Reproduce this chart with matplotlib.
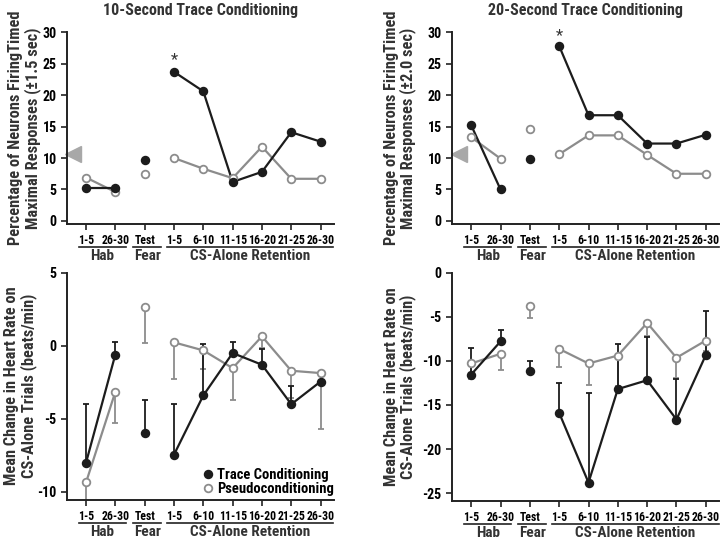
import matplotlib
matplotlib.use("Agg")
import matplotlib.pyplot as plt
from matplotlib import font_manager
from matplotlib.lines import Line2D
from matplotlib.transforms import blended_transform_factory, offset_copy

names = sorted({f.name for f in font_manager.fontManager.ttflist})
fam = 'Liberation Sans Narrow' if 'Liberation Sans Narrow' in names else 'Roboto Condensed' if 'Roboto Condensed' in names else 'Liberation Sans'
plt.rcParams['font.family'] = [fam, 'DejaVu Sans']
plt.rcParams['axes.unicode_minus'] = False

categories = ['1-5', '26-30', 'Test', '1-5', '6-10', '11-15', '16-20', '21-25', '26-30']
groups = ['Hab', 'Fear', 'CS-Alone Retention']
group_spans = [(-0.24, 1.37), (1.61, 2.56), (2.76, 8.44)]
segments = [(0, 2), (2, 3), (3, 9)]

top10_trace = [5.2, 5.2, 9.7, 23.7, 20.6, 6.2, 7.8, 14.1, 12.6]
top10_pseudo = [6.9, 4.6, 7.4, 10.0, 8.3, 6.8, 11.8, 6.7, 6.7]
top20_trace = [15.2, 5.0, 9.8, 27.8, 16.8, 16.8, 12.3, 12.3, 13.7]
top20_pseudo = [13.3, 9.9, 14.6, 10.6, 13.6, 13.6, 10.5, 7.5, 7.5]
chance10 = 10.6
chance20 = 10.6
star10 = 25.7
star20 = 29.4

hr10_trace = [-8.0, -0.6, -6.0, -7.45, -3.4, -0.5, -1.3, -4.0, -2.45]
hr10_trace_err = [4.05, 0.85, 2.3, 3.45, 3.5, 0.75, 1.1, 1.25, 0.0]
hr10_pseudo = [-9.35, -3.15, 2.62, 0.23, -0.32, -1.53, 0.64, -1.71, -1.87]
hr10_pseudo_err = [1.5, 2.15, 2.4, 2.5, 1.26, 2.2, 0.8, 1.83, 3.8]

hr20_trace = [-11.55, -7.8, -11.2, -15.9, -23.8, -13.2, -12.2, -16.65, -9.35]
hr20_trace_err = [3.05, 1.3, 1.2, 3.4, 10.15, 5.1, 4.95, 4.6, 4.95]
hr20_pseudo = [-10.3, -9.2, -3.8, -8.65, -10.3, -9.4, -5.7, -9.65, -7.7]
hr20_pseudo_err = [1.75, 1.8, 1.3, 2.05, 2.4, 3.5, 1.5, 2.25, 1.2]

BLACK = '#1c1c1c'
GRAY = '#8c8c8c'

fig = plt.figure(figsize=(7.2, 5.4), dpi=100)
ax_tl = fig.add_axes([0.093, 0.585, 0.371, 0.356])
ax_tr = fig.add_axes([0.628, 0.585, 0.371, 0.356])
ax_bl = fig.add_axes([0.093, 0.074, 0.371, 0.422])
ax_br = fig.add_axes([0.628, 0.072, 0.371, 0.424])

x = list(range(len(categories)))


def draw_series(ax, vals, color, filled, err=None, up=True):
    for a, b in segments:
        ax.plot(x[a:b], vals[a:b], '-', color=color, lw=1.6, zorder=3)
    if err is not None:
        lo = [0] * len(err) if up else err
        hi = err if up else [0] * len(err)
        ax.errorbar(x, vals, yerr=[lo, hi], fmt='none', ecolor=color,
                    elinewidth=1.3, capsize=2.2, capthick=1.3, zorder=2)
    ax.plot(x, vals, 'o', ms=5.5, mec=color, mfc=color if filled else 'white',
            mew=1.3, ls='none', zorder=4, clip_on=False)


def style(ax, ylim, yticks, ylabel, label_x):
    ax.set_xlim(-0.65, 8.46)
    ax.set_ylim(*ylim)
    ax.set_yticks(yticks)
    ax.set_yticklabels([str(t) for t in yticks], fontsize=10, fontweight='bold')
    ax.set_xticks(x)
    ax.set_xticklabels(categories, fontsize=8.5, fontweight='bold')
    for s in ['top', 'right']:
        ax.spines[s].set_visible(False)
    for s in ['left', 'bottom']:
        ax.spines[s].set_linewidth(1.4)
        ax.spines[s].set_color('#222222')
    ax.spines['left'].set_bounds(ylim[0], yticks[-1])
    ax.tick_params(axis='both', direction='out', length=4, width=1.2, color='#222222')
    ax.tick_params(axis='x', pad=3)
    ax.set_ylabel(ylabel, fontsize=11.8, fontweight='bold', color='#333333',
                  linespacing=1.05)
    ax.yaxis.set_label_coords(label_x, 0.5)
    trans = blended_transform_factory(ax.transData, ax.transAxes)
    tl = offset_copy(trans, fig=fig, y=-23, units='dots')
    tt = offset_copy(trans, fig=fig, y=-32, units='dots')
    for g, (a, b) in zip(groups, group_spans):
        ax.plot([a, b], [0, 0], color='#222222', lw=1.2, transform=tl, clip_on=False)
        ax.text((a + b) / 2, 0, g, transform=tt, ha='center', va='center',
                fontsize=11, fontweight='bold', color='#333333')


# Top-left
draw_series(ax_tl, top10_pseudo, GRAY, False)
draw_series(ax_tl, top10_trace, BLACK, True)
ax_tl.plot([-0.43], [chance10], marker='<', ms=11, color='#a8a8a8', ls='none', clip_on=False)
ax_tl.text(3, star10, '*', ha='center', va='center', fontsize=12, color='#333333')
style(ax_tl, (-0.5, 30.05), [0, 5, 10, 15, 20, 25, 30],
      'Percentage of Neurons FiringTimed\nMaximal Responses (±1.5 sec)', -0.097)
ax_tl.set_title('10-Second Trace Conditioning', fontsize=11.5, fontweight='bold',
                color='#333333', pad=12)

# Top-right
draw_series(ax_tr, top20_pseudo, GRAY, False)
draw_series(ax_tr, top20_trace, BLACK, True)
ax_tr.plot([-0.43], [chance20], marker='<', ms=11, color='#a8a8a8', ls='none', clip_on=False)
ax_tr.text(3, star20, '*', ha='center', va='center', fontsize=12, color='#333333')
style(ax_tr, (-0.5, 30.05), [0, 5, 10, 15, 20, 25, 30],
      'Percentage of Neurons FiringTimed\nMaximal Responses (±2.0 sec)', -0.135)
ax_tr.set_title('20-Second Trace Conditioning', fontsize=11.5, fontweight='bold',
                color='#333333', pad=12)

# Bottom-left
draw_series(ax_bl, hr10_pseudo, GRAY, False, hr10_pseudo_err, up=False)
draw_series(ax_bl, hr10_trace, BLACK, True, hr10_trace_err, up=True)
style(ax_bl, (-10.55, 5.03), [-10, -5, 0, 5],
      'Mean Change in Heart Rate on\nCS-Alone Trials (beats/min)', -0.112)
handles = [Line2D([], [], marker='o', ls='none', ms=5.5, mec=BLACK, mfc=BLACK, mew=1.3),
           Line2D([], [], marker='o', ls='none', ms=5.5, mec=GRAY, mfc='white', mew=1.3)]
ax_bl.legend(handles, ['Trace Conditioning', 'Pseudoconditioning'], loc='lower right',
             bbox_to_anchor=(1.02, -0.01), frameon=False, handlelength=0.6,
             handletextpad=0.3, labelspacing=0.05, borderaxespad=0,
             prop={'size': 10.5, 'weight': 'bold'})

# Bottom-right
draw_series(ax_br, hr20_pseudo, GRAY, False, hr20_pseudo_err, up=False)
draw_series(ax_br, hr20_trace, BLACK, True, hr20_trace_err, up=True)
style(ax_br, (-25.9, 0.05), [-25, -20, -15, -10, -5, 0],
      'Mean Change in Heart Rate on\nCS-Alone Trials (beats/min)', -0.135)

fig.savefig('out.png', dpi=100)
